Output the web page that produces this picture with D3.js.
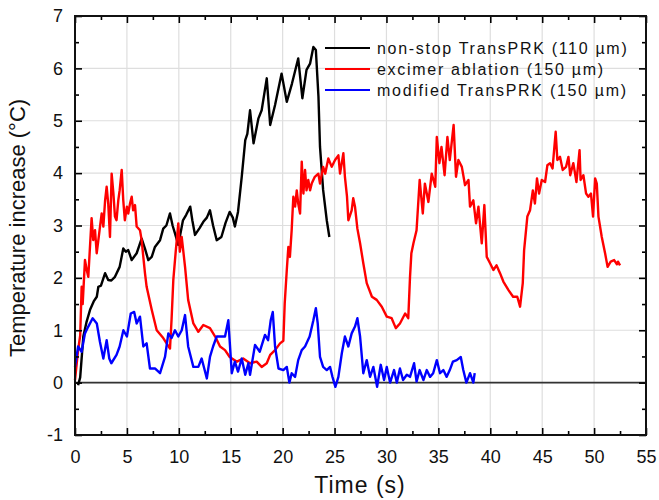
<!DOCTYPE html>
<html>
<head>
<meta charset="utf-8">
<script src="https://cdn.jsdelivr.net/npm/d3@7/dist/d3.min.js"></script>
<style>
  body { margin: 0; background: #fff; }
  svg { font-family: Arial, "Liberation Sans", sans-serif; }
</style>
</head>
<body>
<svg id="chart" width="659" height="500"></svg>
<script>
// time (s), temperature increase (°C)
var nonStop = [
  [0.3,-0.05],[0.5,0.1],[0.8,0.88],[1.1,1.15],[1.45,1.39],[1.8,1.55],[2.1,1.64],[2.25,1.83],[2.5,1.85],
  [2.9,2.09],[3.2,1.96],[3.5,1.95],[3.85,2.02],[4.3,2.21],[4.65,2.56],[4.9,2.5],[5.13,2.53],[5.46,2.34],
  [5.94,2.47],[6.42,2.75],[6.74,2.56],[7.06,2.34],[7.39,2.4],[7.7,2.59],[8.19,2.72],[8.5,2.94],[8.8,3.0],
  [9.15,3.23],[9.4,3.0],[9.63,2.85],[9.95,2.63],[10.4,3.1],[10.7,3.2],[11.1,3.36],[11.3,3.1],[11.56,2.82],
  [12.0,2.95],[12.36,3.07],[12.7,3.15],[13.0,3.29],[13.3,3.0],[13.65,2.72],[14.1,2.78],[14.5,3.05],
  [14.9,3.26],[15.2,3.15],[15.4,2.98],[15.7,3.26],[16.06,3.93],[16.4,4.63],[16.6,4.75],[16.86,5.2],
  [17.2,4.57],[17.66,5.04],[17.98,5.2],[18.47,5.81],[18.8,4.92],[19.27,5.3],[19.9,5.9],[20.4,5.36],
  [20.9,5.71],[21.5,6.19],[21.9,5.43],[22.3,5.97],[22.64,6.09],[22.96,6.41],[23.2,6.35],[23.45,5.46],
  [23.6,4.5],[23.9,3.68],[24.25,3.1],[24.5,2.78]
];

var excimer = [
  [0,0.05],[0.3,0.62],[0.5,0.9],[0.64,1.83],[0.74,1.5],[0.96,2.34],[1.13,2.15],[1.28,2.02],[1.6,3.14],
  [1.76,2.72],[1.93,2.91],[2.09,2.47],[2.25,2.72],[2.41,2.98],[2.57,3.23],[2.73,2.98],[2.9,3.48],
  [3.05,3.74],[3.2,3.42],[3.37,2.78],[3.53,3.99],[3.7,3.61],[3.85,3.17],[4.0,3.1],[4.17,3.48],[4.3,3.67],
  [4.5,4.06],[4.65,3.48],[4.8,3.1],[5.0,3.36],[5.13,3.23],[5.3,3.42],[5.46,3.55],[5.6,3.29],[5.78,3.39],
  [5.94,2.98],[6.26,2.91],[6.42,2.72],[6.58,2.4],[6.74,2.09],[6.9,1.83],[7.39,1.39],[7.87,1.0],[8.5,0.85],
  [9.15,0.65],[9.3,1.2],[9.47,1.96],[9.7,2.5],[9.95,3.04],[10.1,2.5],[10.28,2.78],[10.6,2.21],[10.9,1.58],
  [11.4,1.13],[11.88,0.97],[12.36,1.1],[13,1.04],[13.5,0.88],[13.97,0.69],[14.45,0.62],[14.9,0.49],
  [15.6,0.4],[16.2,0.46],[16.86,0.37],[17.5,0.4],[17.98,0.3],[18.47,0.37],[18.8,0.53],[19.27,0.62],
  [19.75,0.75],[20.07,0.8],[20.2,1.51],[20.4,2.15],[20.55,2.59],[20.7,2.4],[20.87,2.91],[21.03,3.55],
  [21.2,3.36],[21.36,3.67],[21.5,3.42],[21.68,3.23],[21.84,4.22],[22.0,3.61],[22.16,4.06],[22.3,3.67],
  [22.47,3.87],[22.64,3.67],[22.8,3.8],[23.1,3.93],[23.44,3.99],[23.6,3.8],[23.9,4.12],[24.1,3.99],
  [24.4,4.28],[24.73,4.12],[25.05,4.25],[25.37,4.34],[25.53,3.99],[25.85,4.38],[26.0,3.93],[26.2,3.55],
  [26.33,3.1],[26.65,3.29],[26.8,3.52],[26.97,3.36],[27.2,2.94],[27.46,2.66],[27.77,2.28],
  [28.1,1.9],[28.6,1.64],[29.06,1.58],[29.55,1.45],[30.03,1.26],[30.5,1.23],[30.9,1.04],[31.3,1.13],
  [31.8,1.32],[32.1,1.23],[32.27,2.02],[32.4,2.47],[32.6,2.66],[32.9,2.91],[33.2,3.87],[33.5,3.23],
  [33.7,3.8],[34.04,3.45],[34.36,3.99],[34.7,3.74],[34.85,4.69],[35.1,4.19],[35.3,4.5],[35.6,3.96],
  [35.87,4.69],[36.1,4.25],[36.47,4.92],[36.7,3.93],[36.93,4.25],[37.26,4.12],[37.57,3.77],[37.9,3.87],
  [38.05,3.36],[38.37,3.48],[38.63,3.04],[38.86,3.36],[39.18,2.66],[39.43,3.39],[39.66,2.4],[39.98,2.28],
  [40.3,2.15],[40.6,2.24],[40.94,2.09],[41.26,1.93],[41.74,1.77],[42.2,1.64],[42.6,1.64],[42.87,1.45],
  [43.13,1.9],[43.26,2.53],[43.57,3.17],[43.83,3.29],[44.1,3.67],[44.3,3.42],[44.5,3.9],[44.7,3.61],
  [44.96,3.87],[45.28,3.83],[45.5,4.15],[45.76,4.19],[46.0,4.09],[46.3,4.79],[46.46,4.25],[46.72,4.31],
  [46.98,4.06],[47.3,4.12],[47.53,4.31],[47.7,3.96],[48.0,4.19],[48.3,3.83],[48.6,4.44],[48.7,3.87],
  [48.97,3.96],[49.23,3.61],[49.45,3.55],[49.7,3.61],[49.9,3.17],[50.1,3.9],[50.26,3.8],[50.42,3.17],
  [50.74,2.78],[51.06,2.47],[51.3,2.21],[51.6,2.31],[51.93,2.34],[52.2,2.26],[52.3,2.31],[52.5,2.24]
];

var modified = [
  [0,0.3],[0.3,0.69],[0.64,0.59],[0.96,0.94],[1.28,1.07],[1.7,1.23],[2.1,1.13],[2.4,0.78],[2.73,0.46],
  [3.05,0.81],[3.3,0.46],[3.5,0.37],[4.0,0.53],[4.3,0.69],[4.66,1.0],[5.0,0.88],[5.37,1.32],[5.7,1.35],
  [5.94,1.13],[6.26,1.26],[6.58,0.69],[6.9,0.75],[7.22,0.27],[7.7,0.27],[8.19,0.18],[8.67,0.49],
  [8.99,0.94],[9.3,0.85],[9.63,1.0],[9.95,0.88],[10.28,1.0],[10.6,1.29],[10.9,0.69],[11.4,0.3],
  [11.88,0.3],[12.2,0.46],[12.7,0.08],[13,0.49],[13.3,0.69],[13.65,0.88],[14.13,0.88],[14.45,0.88],
  [14.77,1.19],[15.1,0.18],[15.4,0.4],[15.7,0.21],[16.06,0.46],[16.4,0.15],[16.7,0.37],[16.86,0.15],
  [17.34,0.72],[17.8,0.59],[18.3,0.91],[18.6,0.81],[18.85,1.19],[19.05,1.35],[19.27,0.69],[19.6,0.27],
  [20.07,0.24],[20.4,0.3],[20.65,0.0],[20.87,0.18],[21.2,0.11],[21.5,0.43],[21.84,0.62],[22.16,0.69],
  [22.6,0.88],[22.96,1.19],[23.2,1.42],[23.38,1.13],[23.6,0.49],[23.9,0.3],[24.25,0.24],[24.57,0.3],
  [24.8,0.11],[25.08,-0.08],[25.37,0.11],[25.7,0.56],[26.0,0.88],[26.33,0.69],[26.65,0.94],[26.97,1.07],
  [27.2,1.23],[27.46,0.88],[27.77,0.18],[28.1,0.43],[28.42,0.11],[28.74,0.3],[29.1,-0.08],[29.45,0.34],
  [29.77,0.05],[30.03,0.3],[30.35,0],[30.73,0.24],[31.0,0],[31.3,0.27],[31.6,0.05],[31.96,0.15],
  [32.27,0.11],[32.66,0.37],[32.9,0.02],[33.2,0.24],[33.56,0.05],[33.88,0.24],[34.2,0.11],[34.5,0.18],
  [34.85,0.43],[35.16,0.18],[35.48,0.24],[35.8,0.11],[36.1,0.24],[36.4,0.4],[36.77,0.43],[37.16,0.49],
  [37.4,0.24],[37.7,0],[38.05,0.18],[38.37,0],[38.5,0.18]
];

var seriesNames = ['non-stop TransPRK (110 µm)', 'excimer ablation (150 µm)', 'modified TransPRK (150 µm)'];
var seriesColors = ['#000000', '#ff0000', '#0000ff'];
var xTicks = [0, 5, 10, 15, 20, 25, 30, 35, 40, 45, 50, 55];
var yTicks = [-1, 0, 1, 2, 3, 4, 5, 6, 7];

var margin = {top: 16, right: 13, bottom: 65, left: 75};
var width = 659 - margin.left - margin.right;
var height = 500 - margin.top - margin.bottom;

var svg = d3.select('#chart');
var g = svg.append('g').attr('transform', 'translate(' + margin.left + ',' + margin.top + ')');

var x = d3.scaleLinear().domain([0, 55]).range([0, width]);
var y = d3.scaleLinear().domain([-1, 7]).range([height, 0]);

var minorX = d3.range(2.5, 55, 5);
var minorY = d3.range(-0.5, 7, 1);
var plain = function(d) { return String(d); };

// grid
g.append('g')
  .attr('class', 'grid')
  .selectAll('line')
  .data(xTicks.slice(1, -1))
  .enter().append('line')
  .attr('x1', x).attr('x2', x)
  .attr('y1', 0).attr('y2', height);
g.append('g')
  .attr('class', 'grid')
  .selectAll('line')
  .data(yTicks.slice(1, -1))
  .enter().append('line')
  .attr('x1', 0).attr('x2', width)
  .attr('y1', y).attr('y2', y);
g.selectAll('.grid line').attr('stroke', '#dedede').attr('stroke-width', 1.2);

// zero line
g.append('line')
  .attr('x1', 0).attr('x2', width)
  .attr('y1', y(0)).attr('y2', y(0))
  .attr('stroke', '#333').attr('stroke-width', 1.6);

// series
var line = d3.line()
  .x(function(d) { return x(d[0]); })
  .y(function(d) { return y(d[1]); });

[nonStop, excimer, modified].forEach(function(data, i) {
  g.append('path')
    .datum(data)
    .attr('d', line)
    .attr('fill', 'none')
    .attr('stroke', seriesColors[i])
    .attr('stroke-width', 2.4)
    .attr('stroke-linejoin', 'round');
});

// axes (ticks inward, mirrored on top/right)
function styleAxis(sel) {
  sel.select('.domain').remove();
  sel.selectAll('.tick line').attr('stroke', '#000').attr('stroke-width', 1.6);
  sel.selectAll('.tick text').attr('fill', '#111').style('font-size', '18px');
}

g.append('g')
  .attr('transform', 'translate(0,' + height + ')')
  .call(d3.axisBottom(x).tickValues(xTicks).tickSize(-7).tickPadding(15).tickFormat(plain))
  .call(styleAxis);
g.append('g')
  .attr('transform', 'translate(0,' + height + ')')
  .call(d3.axisBottom(x).tickValues(minorX).tickSize(-4).tickFormat(''))
  .call(styleAxis);
g.append('g')
  .call(d3.axisTop(x).tickValues(xTicks).tickSize(-7).tickFormat(''))
  .call(styleAxis);
g.append('g')
  .call(d3.axisTop(x).tickValues(minorX).tickSize(-4).tickFormat(''))
  .call(styleAxis);

g.append('g')
  .call(d3.axisLeft(y).tickValues(yTicks).tickSize(-7).tickPadding(12).tickFormat(plain))
  .call(styleAxis);
g.append('g')
  .call(d3.axisLeft(y).tickValues(minorY).tickSize(-4).tickFormat(''))
  .call(styleAxis);
g.append('g')
  .attr('transform', 'translate(' + width + ',0)')
  .call(d3.axisRight(y).tickValues(yTicks).tickSize(-7).tickFormat(''))
  .call(styleAxis);
g.append('g')
  .attr('transform', 'translate(' + width + ',0)')
  .call(d3.axisRight(y).tickValues(minorY).tickSize(-4).tickFormat(''))
  .call(styleAxis);

// frame
g.append('rect')
  .attr('width', width).attr('height', height)
  .attr('fill', 'none').attr('stroke', '#111').attr('stroke-width', 2);

// legend
var legend = g.append('g').attr('transform', 'translate(' + (325 - margin.left) + ',' + (48 - margin.top) + ')');
var item = legend.selectAll('g')
  .data(seriesNames)
  .enter().append('g')
  .attr('transform', function(d, i) { return 'translate(0,' + (i * 21) + ')'; });
item.append('line')
  .attr('x1', 0).attr('x2', 45)
  .attr('stroke', function(d, i) { return seriesColors[i]; })
  .attr('stroke-width', 2);
item.append('text')
  .attr('x', 52).attr('y', 6)
  .style('font-size', '16px')
  .style('letter-spacing', '1.7px')
  .attr('fill', '#111')
  .text(function(d) { return d; });

// axis titles
svg.append('text')
  .attr('x', 360).attr('y', 493)
  .attr('text-anchor', 'middle')
  .style('font-size', '23px')
  .style('letter-spacing', '1px')
  .attr('fill', '#111')
  .text('Time (s)');
svg.append('text')
  .attr('transform', 'translate(25,228) rotate(-90)')
  .attr('text-anchor', 'middle')
  .style('font-size', '22px')
  .attr('fill', '#111')
  .text('Temperature increase (°C)');
</script>
</body>
</html>
